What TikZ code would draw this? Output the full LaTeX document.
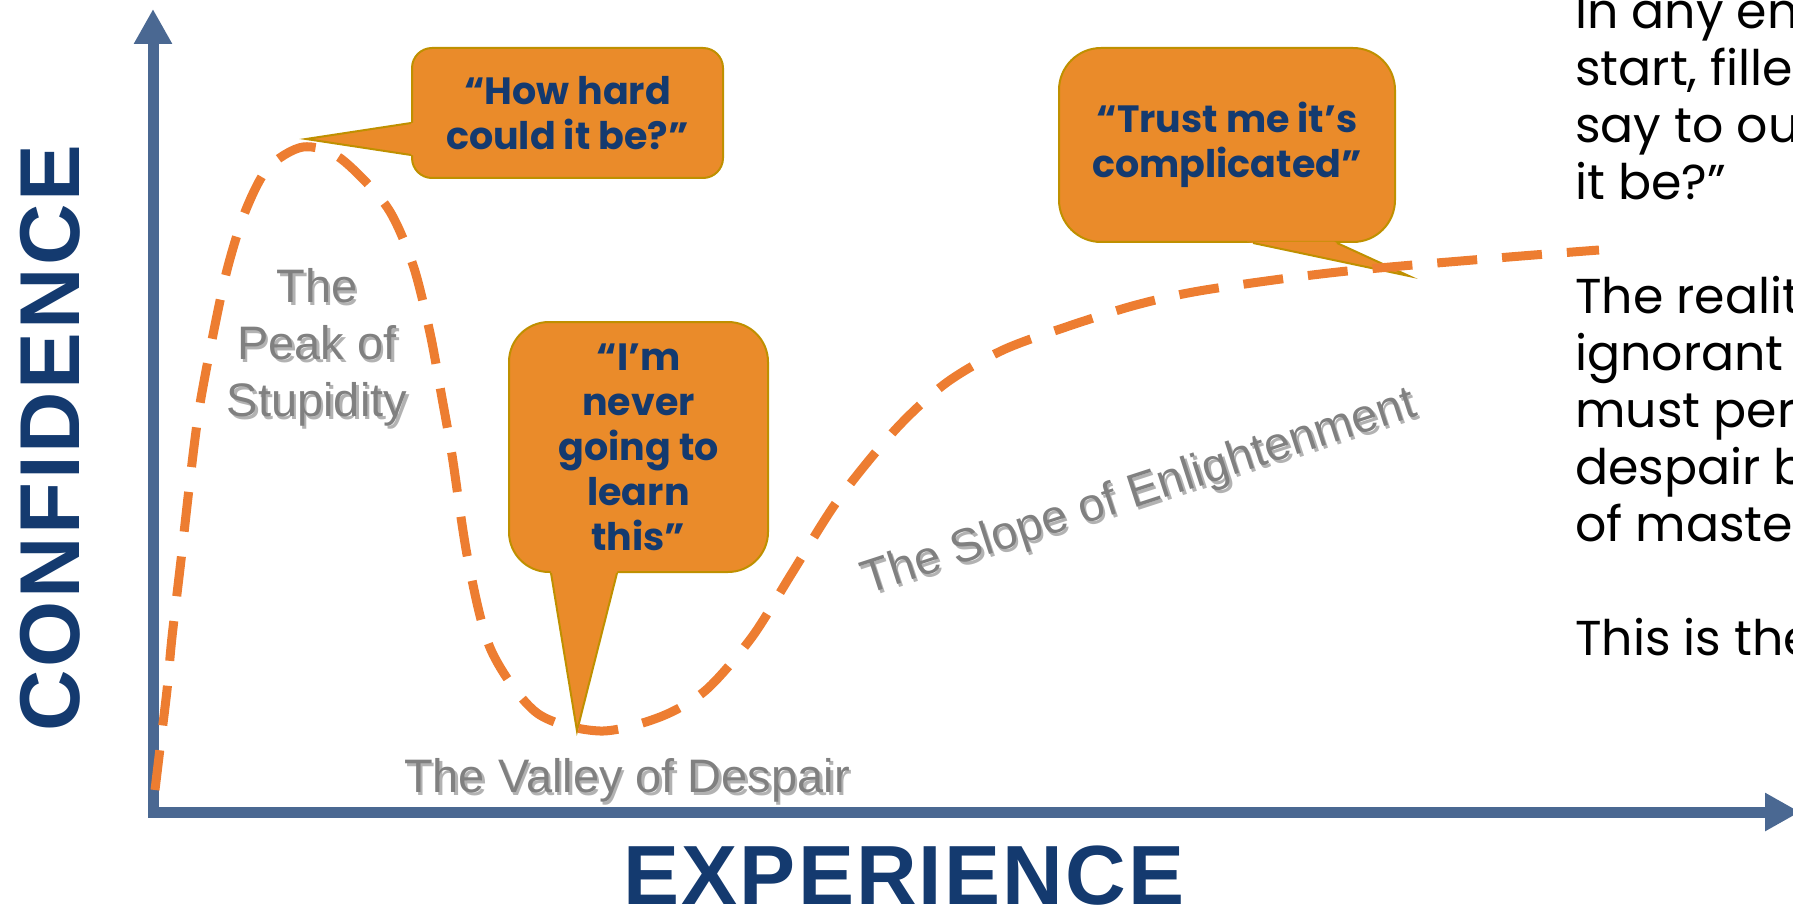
\documentclass[tikz,border=0pt]{standalone}
\usepackage{fontspec}
\usepackage{xcolor}
\usetikzlibrary{arrows.meta,calc}

\setmainfont{Poppins}
\newfontfamily\axisfont{Liberation Sans}[LetterSpace=2.5]
\newfontfamily\axisfontwide{Liberation Sans}[LetterSpace=3.3]
\newfontfamily\labelfont{Liberation Sans}

\definecolor{axisblue}{HTML}{4A6892}
\definecolor{navy}{HTML}{143A6F}
\definecolor{curveorange}{HTML}{ED7D31}
\definecolor{bubblefill}{HTML}{EA8B2A}
\definecolor{bubbleedge}{HTML}{BF9000}
\definecolor{labelgray}{HTML}{808080}

\begin{document}
\begin{tikzpicture}[x=1pt,y=-1pt]
        \tikzset{axisline/.style={draw=axisblue, line width=11pt, line join=miter,
                    {Triangle[width=36pt,length=35pt]}-{Triangle[width=36pt,length=35pt]}},
                 axistitle/.style={text=navy, inner sep=0pt, anchor=base},
                 bubble/.style={rectangle, fill=bubblefill, draw=bubbleedge, line width=2pt,
                    align=center, text=navy, inner sep=0pt,
                    font=\bfseries\fontsize{38}{45}\selectfont},
                 tailedge/.style={draw=bubbleedge, line width=2pt},
                 phase/.style={text=labelgray, inner sep=0pt, align=center,
                    font=\labelfont\fontsize{47}{57}\selectfont},
                 phaseshadow/.style={phase, text=black, opacity=.3},
                 hype/.style={draw=curveorange, line width=9pt, dash pattern=on 40pt off 25pt},
                 story/.style={anchor=base west, inner sep=0pt, font=\fontsize{49}{57}\selectfont}}
        \useasboundingbox (0,0) rectangle (1793,909);

        % axes
        \coordinate (ytop) at (153,9);
        \coordinate (origin) at (153,812);
        \coordinate (xend) at (1800,812);
        \draw[axisline] (ytop) -- (origin) -- (xend);
        \node[axistitle, rotate=90, font=\axisfontwide\bfseries\fontsize{85}{90}\selectfont] (ylabel) at (79,438) {CONFIDENCE};
        \node[axistitle, font=\axisfont\bfseries\fontsize{84}{90}\selectfont] (xlabel) at (904,904) {EXPERIENCE};

        % speech bubbles
        \node[bubble, rounded corners=20pt, minimum width=311pt, minimum height=130pt] (hard) at (567.5,113) {“How hard\\could it be?”};
        \node[bubble, rounded corners=40pt, minimum width=259pt, minimum height=250pt] (never) at (638.5,447) {“I’m\\never\\going to\\learn\\this”};
        \node[bubble, rounded corners=42pt, minimum width=336pt, minimum height=194pt] (trust) at (1227,145) {“Trust me it’s\\complicated”};

        \coordinate (hardtip) at (306,139);
        \coordinate (hardA) at ($(hard.west)+(0,10)$);
        \coordinate (hardB) at ($(hard.west)+(0,42)$);
        \fill[bubblefill] (hardtip) -- ($(hardtip)!1.04!(hardA)$) -- ($(hardtip)!1.04!(hardB)$) -- cycle;
        \draw[tailedge] (hardA) -- (hardtip) -- (hardB);

        \coordinate (nevertip) at (577,731);
        \coordinate (neverA) at ($(never.south)+(-87.5,0)$);
        \coordinate (neverB) at ($(never.south)+(-21.5,0)$);
        \fill[bubblefill] (nevertip) -- ($(nevertip)!1.04!(neverA)$) -- ($(nevertip)!1.04!(neverB)$) -- cycle;
        \draw[tailedge] (neverA) -- (nevertip) -- (neverB);

        \coordinate (trusttip) at (1409,276);
        \coordinate (trustA) at ($(trust.south)+(26,0)$);
        \coordinate (trustB) at ($(trust.south)+(110,0)$);
        \fill[bubblefill] (trusttip) -- ($(trusttip)!1.04!(trustA)$) -- ($(trusttip)!1.04!(trustB)$) -- cycle;
        \draw[tailedge] (trustA) -- (trusttip) -- (trustB);

        % confidence curve
        \draw[hype] plot[smooth] coordinates {(155,790) (161,740) (167,690) (172,637) (181,560)
            (190,480) (199,410) (212,340) (227,270) (245,212) (268,168) (303,147)
            (340,158) (387,207) (413,265) (430,333) (442,398) (452,455) (468,560)
            (491,650) (537,713) (600,731) (660,717) (706,690) (752,637) (792,573)
            (838,500) (895,430) (946,383) (1003,350) (1066,327) (1136,305) (1205,290)
            (1338,272) (1497,258) (1599,250)};

        % phase labels, each over its shadow
        \node[phaseshadow] (peakshadow) at (319.5,350) {The\\Peak of\\Stupidity};
        \node[phaseshadow, anchor=base] (valleyshadow) at (629.5,795) {The Valley of Despair};
        \node[phaseshadow, anchor=base, rotate=18] (slopeshadow) at (1145.5,508) {The Slope of Enlightenment};
        \node[phase] (peak) at (317,347) {The\\Peak of\\Stupidity};
        \node[phase, anchor=base] (valley) at (627,792) {The Valley of Despair};
        \node[phase, anchor=base, rotate=18] (slope) at (1143,505) {The Slope of Enlightenment};

        % side text
        \foreach \y/\txt [count=\i] in {28.5/In any en, 85.5/{start, fille}, 142.5/say to ou,
                199.5/it be?”, 313.5/The realit, 370.5/ignorant, 427.5/must per,
                484.5/despair b, 541.5/of master, 655.5/This is the}
            \node[story] (story\i) at (1575,\y) {\txt};
    \end{tikzpicture}
\end{document}
